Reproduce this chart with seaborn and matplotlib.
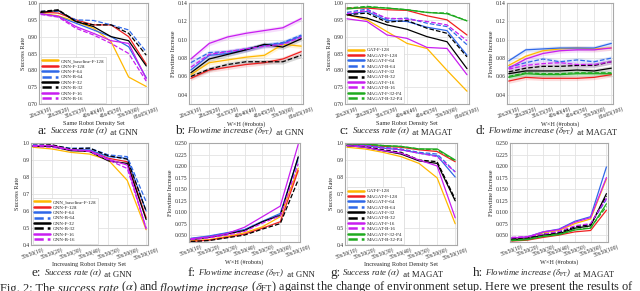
import matplotlib
matplotlib.use('Agg')
import matplotlib.pyplot as plt
from matplotlib.text import Annotation
import seaborn as sns
import numpy as np

sns.set_theme(style="whitegrid")
plt.rcParams['font.family'] = ['Liberation Serif', 'DejaVu Serif']
plt.rcParams['mathtext.fontset'] = 'stix'

# x tick labels
same_sets = ["20x20(10)", "28x28(20)", "35x35(30)", "40x40(40)", "45x45(50)", "50x50(60)", "65x65(100)"]
incr_sets = ["50x50(10)", "50x50(20)", "50x50(30)", "50x50(40)", "50x50(50)", "50x50(60)", "50x50(100)"]

gnn_names = ["GNN_baseline-F-128", "GNN-F-128", "GNN-F-64", "GNN-B-64",
             "GNN-F-32", "GNN-B-32", "GNN-F-16", "GNN-B-16"]
magat_names = ["GAT-F-128", "MAGAT-F-128", "MAGAT-F-64", "MAGAT-B-64", "MAGAT-F-32",
               "MAGAT-B-32", "MAGAT-F-16", "MAGAT-B-16", "MAGAT-F-32-P4", "MAGAT-B-32-P4"]

# (a) GNN success rate, same density
gnn_sr_same = [
    [0.970, 0.962, 0.945, 0.925, 0.885, 0.780, 0.752],
    [0.973, 0.970, 0.950, 0.935, 0.935, 0.900, 0.818],
    [0.968, 0.960, 0.940, 0.920, 0.900, 0.870, 0.778],
    [0.975, 0.975, 0.950, 0.948, 0.935, 0.920, 0.855],
    [0.972, 0.978, 0.945, 0.930, 0.900, 0.888, 0.813],
    [0.975, 0.980, 0.945, 0.935, 0.935, 0.910, 0.845],
    [0.968, 0.960, 0.930, 0.910, 0.888, 0.880, 0.775],
    [0.966, 0.958, 0.925, 0.905, 0.880, 0.850, 0.768],
]
# (b) GNN flowtime increase, same density
gnn_ft_same = [
    [0.062, 0.075, 0.078, 0.081, 0.083, 0.095, 0.093],
    [0.058, 0.067, 0.070, 0.073, 0.075, 0.079, 0.087],
    [0.067, 0.083, 0.085, 0.089, 0.094, 0.096, 0.104],
    [0.075, 0.086, 0.087, 0.090, 0.094, 0.097, 0.105],
    [0.064, 0.079, 0.084, 0.089, 0.095, 0.092, 0.101],
    [0.060, 0.068, 0.073, 0.076, 0.076, 0.076, 0.083],
    [0.079, 0.096, 0.103, 0.107, 0.110, 0.113, 0.123],
    [0.070, 0.084, 0.087, 0.090, 0.093, 0.095, 0.103],
]
# (c) MAGAT success rate, same density
magat_sr_same = [
    [0.965, 0.950, 0.915, 0.880, 0.865, 0.800, 0.738],
    [0.985, 0.985, 0.980, 0.978, 0.962, 0.950, 0.905],
    [0.966, 0.975, 0.948, 0.945, 0.928, 0.918, 0.845],
    [0.972, 0.982, 0.952, 0.955, 0.940, 0.930, 0.876],
    [0.965, 0.955, 0.935, 0.922, 0.900, 0.885, 0.805],
    [0.965, 0.970, 0.943, 0.948, 0.925, 0.910, 0.840],
    [0.953, 0.945, 0.905, 0.895, 0.868, 0.865, 0.787],
    [0.968, 0.978, 0.955, 0.952, 0.945, 0.935, 0.888],
    [0.982, 0.988, 0.985, 0.980, 0.972, 0.968, 0.947],
    [0.985, 0.990, 0.985, 0.980, 0.972, 0.970, 0.947],
]
# (d) MAGAT flowtime increase, same density
magat_ft_same = [
    [0.072, 0.082, 0.088, 0.090, 0.091, 0.090, 0.091],
    [0.055, 0.059, 0.058, 0.058, 0.058, 0.059, 0.062],
    [0.077, 0.089, 0.090, 0.091, 0.091, 0.091, 0.096],
    [0.070, 0.075, 0.079, 0.076, 0.078, 0.076, 0.080],
    [0.063, 0.066, 0.066, 0.066, 0.067, 0.066, 0.069],
    [0.065, 0.069, 0.071, 0.071, 0.072, 0.072, 0.076],
    [0.069, 0.079, 0.085, 0.088, 0.089, 0.089, 0.091],
    [0.068, 0.072, 0.074, 0.075, 0.073, 0.073, 0.076],
    [0.059, 0.063, 0.062, 0.062, 0.063, 0.063, 0.063],
    [0.060, 0.064, 0.063, 0.063, 0.064, 0.064, 0.064],
]
# (e) GNN success rate, increasing density
gnn_sr_incr = [
    [0.975, 0.965, 0.945, 0.935, 0.900, 0.780, 0.490],
    [0.985, 0.985, 0.960, 0.955, 0.910, 0.890, 0.560],
    [0.985, 0.980, 0.960, 0.960, 0.920, 0.910, 0.600],
    [0.990, 0.985, 0.970, 0.970, 0.930, 0.920, 0.655],
    [0.980, 0.980, 0.955, 0.950, 0.895, 0.880, 0.550],
    [0.985, 0.990, 0.965, 0.970, 0.925, 0.905, 0.600],
    [0.985, 0.985, 0.960, 0.955, 0.905, 0.870, 0.495],
    [0.980, 0.975, 0.960, 0.950, 0.900, 0.850, 0.500],
]
# (f) GNN flowtime increase, increasing density
gnn_ft_incr = [
    [0.038, 0.040, 0.047, 0.055, 0.068, 0.090, 0.195],
    [0.036, 0.039, 0.045, 0.052, 0.065, 0.079, 0.190],
    [0.043, 0.048, 0.055, 0.062, 0.080, 0.097, 0.218],
    [0.042, 0.047, 0.054, 0.061, 0.079, 0.095, 0.215],
    [0.040, 0.045, 0.052, 0.060, 0.079, 0.093, 0.220],
    [0.036, 0.038, 0.044, 0.050, 0.063, 0.075, 0.170],
    [0.042, 0.046, 0.053, 0.067, 0.090, 0.113, 0.247],
    [0.040, 0.044, 0.050, 0.058, 0.076, 0.092, 0.205],
]
# (g) MAGAT success rate, increasing density
magat_sr_incr = [
    [0.975, 0.965, 0.945, 0.920, 0.880, 0.795, 0.525],
    [0.995, 0.990, 0.980, 0.975, 0.960, 0.950, 0.890],
    [0.985, 0.985, 0.970, 0.960, 0.940, 0.925, 0.800],
    [0.990, 0.990, 0.975, 0.965, 0.945, 0.935, 0.830],
    [0.985, 0.975, 0.955, 0.935, 0.895, 0.880, 0.660],
    [0.985, 0.980, 0.960, 0.945, 0.900, 0.890, 0.670],
    [0.985, 0.975, 0.955, 0.940, 0.900, 0.865, 0.560],
    [0.990, 0.985, 0.970, 0.960, 0.940, 0.920, 0.830],
    [0.995, 0.995, 0.985, 0.980, 0.965, 0.965, 0.900],
    [0.995, 0.995, 0.985, 0.980, 0.965, 0.960, 0.895],
]
# (h) MAGAT flowtime increase, increasing density
magat_ft_incr = [
    [0.042, 0.045, 0.055, 0.060, 0.075, 0.085, 0.172],
    [0.037, 0.039, 0.045, 0.050, 0.057, 0.060, 0.104],
    [0.043, 0.046, 0.057, 0.063, 0.080, 0.090, 0.198],
    [0.043, 0.045, 0.052, 0.056, 0.068, 0.073, 0.128],
    [0.040, 0.042, 0.050, 0.053, 0.065, 0.070, 0.140],
    [0.042, 0.044, 0.052, 0.055, 0.068, 0.073, 0.135],
    [0.044, 0.046, 0.057, 0.062, 0.078, 0.088, 0.175],
    [0.045, 0.047, 0.052, 0.058, 0.070, 0.075, 0.130],
    [0.038, 0.040, 0.047, 0.051, 0.061, 0.065, 0.118],
    [0.039, 0.041, 0.048, 0.052, 0.062, 0.066, 0.112],
]

ORANGE, RED, BLUE, MAG, GREEN = '#ffb800', '#f02020', '#2f68e8', '#c81ef0', '#1faa1f'
gnn_colors = [ORANGE, RED, BLUE, BLUE, 'black', 'black', MAG, MAG]
gnn_styles = ['-', '-', '-', '--', '-', '--', '-', '--']
magat_colors = [ORANGE, RED, BLUE, BLUE, 'black', 'black', MAG, MAG, GREEN, GREEN]
magat_styles = ['-', '-', '-', '--', '-', '--', '-', '--', '-', '--']

W, H = 640, 291
fig = plt.figure(figsize=(6.4, 2.91), dpi=100)


def px_axes(l, t, r, b):
    return fig.add_axes([l / W, 1 - b / H, (r - l) / W, (b - t) / H])


def draw(ax, names, series, colors, styles, xt, ylim, yticks, yfmt, ylabel, xlabel,
         band=0.0, legend=False):
    x = np.arange(len(xt))
    for name, vals, c, ls in zip(names, series, colors, styles):
        vals = np.array(vals)
        if band:
            ax.fill_between(x, vals - band, vals + band, color=c, alpha=0.15, lw=0)
        sns.lineplot(x=x, y=vals, ax=ax, color=c, linestyle=ls, lw=0.9,
                     label=name if legend else None)
    ax.set_xlim(-0.1, len(xt) - 0.9)
    ax.set_ylim(*ylim)
    ax.set_yticks(yticks)
    ax.set_yticklabels([yfmt.format(v) for v in yticks])
    ax.set_xticks(x)
    ax.set_xticklabels(xt, rotation=20, ha='center')
    ax.tick_params(axis='both', labelsize=4, pad=1, length=0)
    ax.set_xlabel(xlabel, fontsize=4.5, labelpad=1)
    ax.set_ylabel(ylabel, fontsize=4.5, labelpad=1.5)
    ax.grid(True, color='#e3e3e3', lw=0.6)
    for s in ax.spines.values():
        s.set_color('#a8a8a8')
        s.set_linewidth(0.8)
    if legend:
        leg = ax.legend(loc='lower left', fontsize=3.6, frameon=True, handlelength=3.2,
                        labelspacing=0.18, borderpad=0.3, handletextpad=0.5,
                        borderaxespad=0.3, framealpha=1.0, fancybox=False)
        leg.get_frame().set_linewidth(0.4)
        leg.get_frame().set_edgecolor('#cccccc')
        for ln in leg.get_lines():
            ln.set_linewidth(1.8)
    elif ax.get_legend() is not None:
        ax.get_legend().remove()


sr_same_ticks = [0.70, 0.75, 0.80, 0.85, 0.90, 0.95, 1.00]
ft_same_ticks = [0.04, 0.06, 0.08, 0.10, 0.12, 0.14]
sr_incr_ticks = [0.4, 0.5, 0.6, 0.7, 0.8, 0.9, 1.0]
ft_incr_ticks = [0.050, 0.075, 0.100, 0.125, 0.150, 0.175, 0.200, 0.225, 0.250]
WH = 'W×H (#robots)'

ax_a = px_axes(39, 3, 148, 104)
draw(ax_a, gnn_names, gnn_sr_same, gnn_colors, gnn_styles, same_sets, (0.70, 1.00),
     sr_same_ticks, '{:.2f}', 'Success Rate', 'Same Robot Density Set', legend=True)
ax_b = px_axes(189, 3, 303, 104)
draw(ax_b, gnn_names, gnn_ft_same, gnn_colors, gnn_styles, same_sets, (0.03, 0.14),
     ft_same_ticks, '{:.2f}', 'Flowtime Increase', WH, band=0.0025)
ax_c = px_axes(345, 3, 469, 104)
draw(ax_c, magat_names, magat_sr_same, magat_colors, magat_styles, same_sets, (0.70, 1.00),
     sr_same_ticks, '{:.2f}', 'Success Rate', 'Same Robot Density Set', legend=True)
ax_d = px_axes(507, 3, 613, 104)
draw(ax_d, magat_names, magat_ft_same, magat_colors, magat_styles, same_sets, (0.03, 0.14),
     ft_same_ticks, '{:.2f}', 'Flowtime Increase', WH, band=0.0025)

ax_e = px_axes(31, 143, 148, 245)
draw(ax_e, gnn_names, gnn_sr_incr, gnn_colors, gnn_styles, incr_sets, (0.4, 1.0),
     sr_incr_ticks, '{:.1f}', 'Success Rate', 'Increasing Robot Density Set', legend=True)
ax_f = px_axes(189, 143, 300, 242)
draw(ax_f, gnn_names, gnn_ft_incr, gnn_colors, gnn_styles, incr_sets, (0.035, 0.25),
     ft_incr_ticks, '{:.3f}', 'Flowtime Increase', WH)
ax_g = px_axes(345, 143, 457, 245)
draw(ax_g, magat_names, magat_sr_incr, magat_colors, magat_styles, incr_sets, (0.4, 1.0),
     sr_incr_ticks, '{:.1f}', 'Success Rate', 'Increasing Robot Density Set', legend=True)
ax_h = px_axes(510, 143, 608, 242)
draw(ax_h, magat_names, magat_ft_incr, magat_colors, magat_styles, incr_sets, (0.035, 0.25),
     ft_incr_ticks, '{:.3f}', 'Flowtime Increase', WH)


def chain(x_px, y_px, parts):
    # parts: (text, style, size); each piece placed right after the previous one
    txt, style, size = parts[0]
    prev = fig.text(x_px / W, 1 - y_px / H, txt, fontsize=size, fontstyle=style, va='bottom')
    for txt, style, size in parts[1:]:
        ann = Annotation(txt, xy=(1, 0), xycoords=prev, va='bottom', ha='left',
                         fontsize=size, fontstyle=style)
        fig.add_artist(ann)
        prev = ann


SR = r'Success rate ($\alpha$)'
FT = r'Flowtime increase ($\delta_{\mathrm{FT}}$)'
CAP, SUB = 9.5, 6.3
captions = [
    (38, 137, 'a:', SR, ' at GNN'),
    (175, 137, 'b:', FT, ' at GNN'),
    (340, 137, 'c:', SR, ' at MAGAT'),
    (476, 137, 'd:', FT, ' at MAGAT'),
    (32, 279, 'e:', SR, ' at GNN'),
    (188, 279, 'f:', FT, ' at GNN'),
    (330, 279, 'g:', SR, ' at MAGAT'),
    (473, 279, 'h:', FT, ' at MAGAT'),
]
for x0, y0, let, ital, rest in captions:
    chain(x0, y0, [(let, 'normal', CAP), (' ' + ital, 'italic', SUB), (rest, 'normal', SUB)])

FS = 8.9
chain(0, 295, [('Fig. 2: The ', 'normal', FS), ('success rate', 'italic', FS),
               (r' ($\alpha$) and ', 'normal', FS), ('flowtime increase', 'italic', FS),
               (r' ($\delta_{\mathrm{FT}}$) against the change of environment setup. Here we present the results of',
                'normal', FS)])

fig.savefig('out.png', dpi=100)
